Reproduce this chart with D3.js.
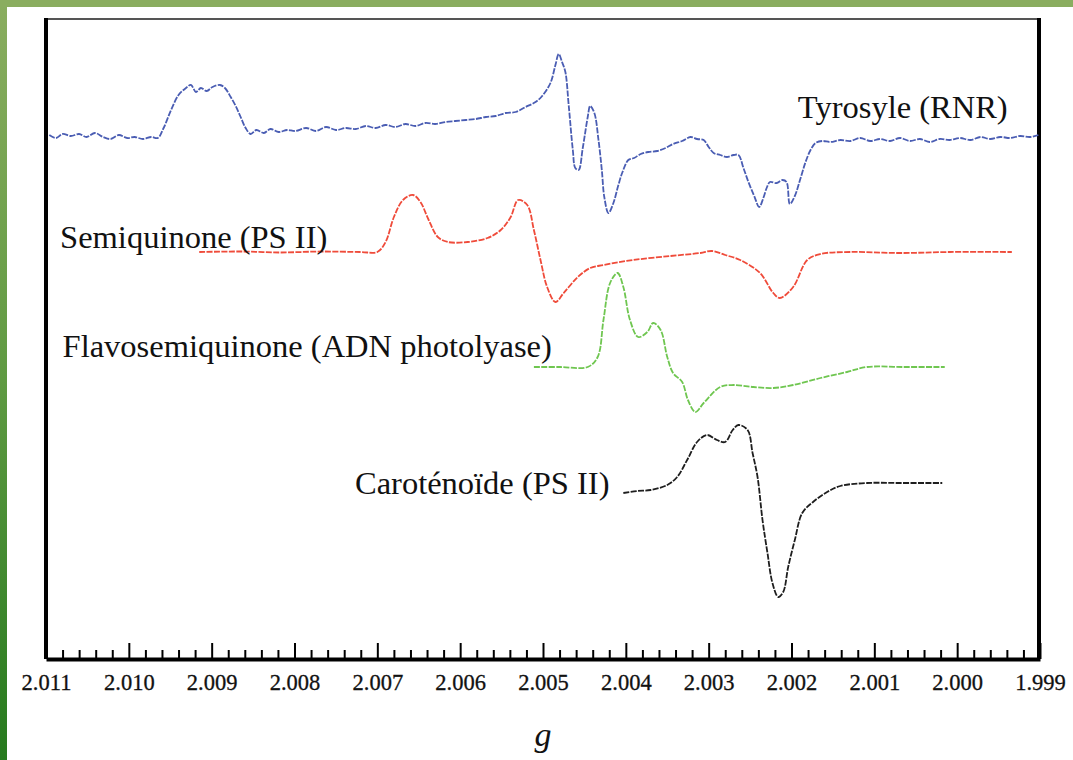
<!DOCTYPE html>
<html>
<head>
<meta charset="utf-8">
<script src="https://cdn.jsdelivr.net/npm/d3@7"></script>
<style>
  html, body { margin: 0; padding: 0; background: #fff; }
  svg { display: block; }
</style>
</head>
<body>
<svg id="chart" width="1073" height="760"></svg>
<script>
// ---- Data (g value, relative intensity in a.u.) ----
const tickValues = [2.011, 2.010, 2.009, 2.008, 2.007, 2.006, 2.005, 2.004, 2.003, 2.002, 2.001, 2.000, 1.999];
const tickLabels = ["2.011", "2.010", "2.009", "2.008", "2.007", "2.006", "2.005", "2.004", "2.003", "2.002", "2.001", "2.000", "1.999"];

const seriesNames = ["Tyrosyle (RNR)", "Semiquinone (PS II)", "Flavosemiquinone (ADN photolyase)", "Caroténoïde (PS II)"];
const seriesOffsets = [524, 407, 292, 174];

const tyrosylG = [2.01096,2.01088,2.01080,2.01070,2.01060,2.01051,2.01041,2.01031,2.01022,2.01012,2.01002,2.00993,2.00983,2.00973,2.00965,2.00958,2.00949,2.00940,2.00931,2.00925,2.00919,2.00913,2.00906,2.00899,2.00890,2.00884,2.00877,2.00871,2.00865,2.00859,2.00853,2.00846,2.00837,2.00829,2.00819,2.00809,2.00799,2.00786,2.00774,2.00762,2.00750,2.00738,2.00726,2.00714,2.00702,2.00690,2.00678,2.00666,2.00654,2.00642,2.00630,2.00618,2.00606,2.00593,2.00581,2.00569,2.00557,2.00545,2.00533,2.00521,2.00509,2.00501,2.00491,2.00485,2.00481,2.00477,2.00473,2.00469,2.00464,2.00461,2.00457,2.00452,2.00446,2.00443,2.00438,2.00433,2.00429,2.00426,2.00421,2.00415,2.00409,2.00404,2.00397,2.00390,2.00382,2.00373,2.00362,2.00352,2.00343,2.00332,2.00322,2.00314,2.00306,2.00300,2.00294,2.00286,2.00278,2.00270,2.00264,2.00258,2.00252,2.00245,2.00239,2.00234,2.00230,2.00226,2.00218,2.00211,2.00206,2.00202,2.00196,2.00189,2.00183,2.00177,2.00171,2.00163,2.00153,2.00141,2.00129,2.00117,2.00105,2.00093,2.00081,2.00069,2.00057,2.00045,2.00033,2.00021,2.00009,1.99997,1.99984,1.99972,1.99960,1.99948,1.99936,1.99924,1.99912,1.99902];
const tyrosylI = [0,-3,1,-1,1,-2,2,-2,-4,0,-3,-2,-4,-2,-3,7,25,40,47,50,43,47,44,48,50,47,38,29,18,7,1,5,2,6,3,5,4,7,4,8,5,7,6,9,7,10,8,11,9,12,11,13,14,15,16,18,19,22,23,28,33,39,52,70,81,73,63,30,-15,-33,-35,-13,18,29,22,-5,-35,-62,-78,-68,-50,-37,-25,-23,-19,-17,-16,-13,-9,-6,-2,-4,-5,-12,-18,-20,-22,-20,-20,-33,-47,-61,-72,-63,-53,-47,-48,-45,-47,-69,-61,-43,-27,-15,-8,-6,-7,-5,-6,-3,-6,-4,-6,-3,-6,-4,-7,-4,-5,-3,-5,-2,-4,-2,-3,-1,-2,0];

const semiquinoneG = [2.00915,2.00865,2.00817,2.00768,2.00720,2.00700,2.00690,2.00680,2.00669,2.00657,2.00648,2.00638,2.00627,2.00615,2.00591,2.00567,2.00551,2.00539,2.00530,2.00519,2.00511,2.00503,2.00495,2.00485,2.00475,2.00458,2.00443,2.00427,2.00391,2.00346,2.00310,2.00296,2.00280,2.00262,2.00238,2.00222,2.00214,2.00198,2.00181,2.00165,2.00129,2.00069,2.00009,1.99934];
const semiquinoneI = [0,0.5,-0.5,0.5,0,0,10,35,52,57,50,32,15,10,10,14,22,35,52,47,22,-8,-35,-50,-41,-25,-16,-13,-8,-4,-1,1,-3,-8,-21,-41,-46,-35,-8,-2,0,-1,0,0];

const flavoG = [2.00511,2.00479,2.00446,2.00434,2.00427,2.00419,2.00410,2.00403,2.00395,2.00385,2.00374,2.00367,2.00358,2.00350,2.00343,2.00332,2.00325,2.00316,2.00306,2.00286,2.00270,2.00246,2.00222,2.00198,2.00165,2.00133,2.00109,2.00065,2.00015];
const flavoI = [0,0,0,10,47,84,94,80,47,30,35,44,37,10,-6,-15,-33,-45,-36,-20,-18,-20,-21,-18,-11,-5,0,0,0];

const caroG = [2.00403,2.00386,2.00370,2.00350,2.00338,2.00326,2.00314,2.00302,2.00290,2.00280,2.00271,2.00264,2.00253,2.00247,2.00241,2.00235,2.00229,2.00223,2.00216,2.00210,2.00204,2.00196,2.00187,2.00174,2.00157,2.00141,2.00109,2.00069,2.00018];
const caroI = [-8,-6,-5,0,8,25,43,50,45,43,55,60,55,32,8,-35,-68,-98,-112,-107,-82,-55,-28,-17,-7,-1,2,2,2];

const seriesG = [tyrosylG, semiquinoneG, flavoG, caroG];
const seriesI = [tyrosylI, semiquinoneI, flavoI, caroI];
const seriesColors = ["#4a5db3", "#ef4b3a", "#6fc650", "#1e1e1e"];

// ---- Drawing ----
const W = 1073, H = 760;
const svg = d3.select("#chart");

// decorative green border (top band + left gradient strip)
const defs = svg.append("defs");
const grad = defs.append("linearGradient").attr("id", "leftGrad")
  .attr("x1", 0).attr("y1", 0).attr("x2", 0).attr("y2", 1);
grad.append("stop").attr("offset", "0%").attr("stop-color", "#8aad5f");
grad.append("stop").attr("offset", "50%").attr("stop-color", "#5f9a42");
grad.append("stop").attr("offset", "100%").attr("stop-color", "#267a1e");
svg.append("rect").attr("x", 0).attr("y", 0).attr("width", 7).attr("height", H).attr("fill", "url(#leftGrad)");
svg.append("rect").attr("x", 0).attr("y", 0).attr("width", W).attr("height", 7).attr("fill", "#8aad5f");

const x = d3.scaleLinear().domain([2.011, 1.999]).range([46, 1040]);
const y = d3.scaleLinear().domain([0, 640]).range([659, 19]);

const serif = "'Liberation Serif', 'Times New Roman', serif";

// frame
svg.append("line").attr("x1", x(2.011)).attr("x2", x(1.999)).attr("y1", y(640)).attr("y2", y(640))
  .attr("stroke", "#555").attr("stroke-width", 2);
svg.append("line").attr("x1", x(2.011)).attr("x2", x(2.011)).attr("y1", y(640) - 1).attr("y2", y(0))
  .attr("stroke", "#000").attr("stroke-width", 4);
svg.append("line").attr("x1", x(1.999) - 1).attr("x2", x(1.999) - 1).attr("y1", y(640) - 1).attr("y2", y(0))
  .attr("stroke", "#000").attr("stroke-width", 4);

// minor ticks
const minorVals = d3.range(0, 61).map(i => 2.011 - i * 0.0002).filter((v, i) => i % 5 !== 0);
const minorAxis = d3.axisBottom(x).tickValues(minorVals).tickSize(-9).tickSizeOuter(0).tickFormat("");
svg.append("g").attr("transform", `translate(0,${y(0)})`).call(minorAxis)
  .call(g => g.select(".domain").remove())
  .call(g => g.selectAll(".tick line").attr("stroke", "#000").attr("stroke-width", 2));

// major axis
const majorAxis = d3.axisBottom(x).tickValues(tickValues).tickSize(-16).tickSizeOuter(0)
  .tickPadding(15).tickFormat((d, i) => tickLabels[i]);
svg.append("g").attr("transform", `translate(0,${y(0)})`).call(majorAxis)
  .call(g => g.select(".domain").attr("stroke", "#000").attr("stroke-width", 4))
  .call(g => g.selectAll(".tick line").attr("stroke", "#000").attr("stroke-width", 2))
  .call(g => g.selectAll(".tick text").attr("font-family", serif).attr("font-size", 22.5)
    .attr("fill", "#111").attr("stroke", "#111").attr("stroke-width", 0.3));

// axis title
svg.append("text").attr("x", (x(2.011) + x(1.999)) / 2).attr("y", 746)
  .attr("text-anchor", "middle").attr("font-family", serif).attr("font-style", "italic")
  .attr("font-size", 34).attr("fill", "#111").text("g");

// spectra
const line = d3.line().x(d => x(d[0])).y(d => y(d[1])).curve(d3.curveCatmullRom.alpha(0.5));
seriesG.forEach((gs, k) => {
  const pts = gs.map((g, i) => [g, seriesOffsets[k] + seriesI[k][i]]);
  svg.append("path").datum(pts).attr("d", line)
    .attr("fill", "none").attr("stroke", seriesColors[k])
    .attr("stroke-width", 1.8).attr("stroke-dasharray", "6,1.4");
});

// series labels
const lab = (txt, gx, yy, anchor) => svg.append("text")
  .attr("x", x(gx)).attr("y", y(yy)).attr("text-anchor", anchor)
  .attr("font-family", serif).attr("font-size", 32.5).attr("fill", "#111").text(txt);
lab(seriesNames[0], 1.99939, 541, "end");
lab(seriesNames[1], 2.01083, 411, "start");
lab(seriesNames[2], 2.01080, 302, "start");
lab(seriesNames[3], 2.00727, 165, "start");
</script>
</body>
</html>
